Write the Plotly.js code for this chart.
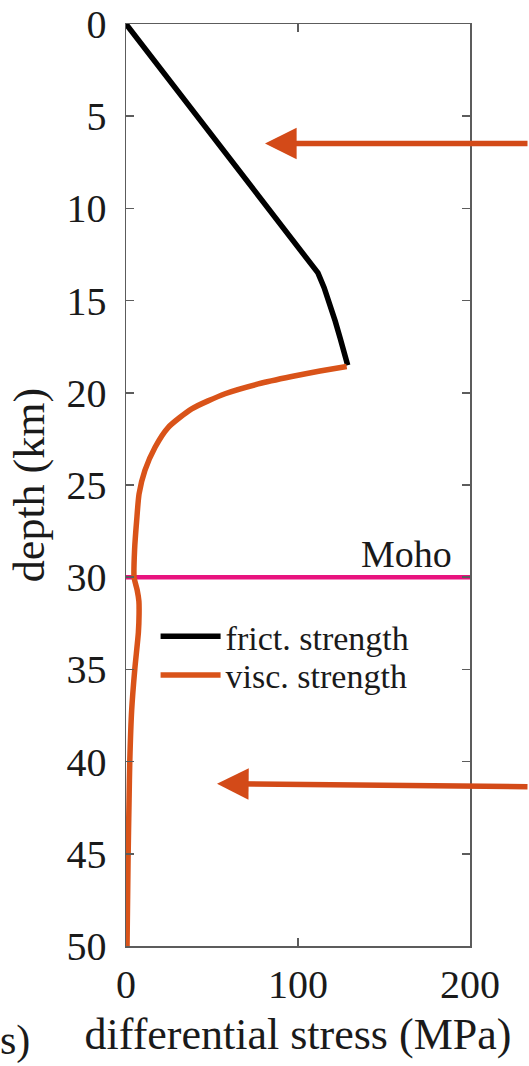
<!DOCTYPE html>
<html>
<head>
<meta charset="utf-8">
<script src="https://cdn.plot.ly/plotly-3.0.1.min.js"></script>
<style>
html,body{margin:0;padding:0;background:#fff;}
#plot{width:529px;height:1066px;}
</style>
</head>
<body>
<div id="plot"></div>
<script>
// ---- data ----
const frictDepth  = [0, 13.5, 14.3, 15.2, 16.1, 17.0, 17.8, 18.5];
const frictStress = [0, 111.6, 115.2, 118.6, 121.6, 124.4, 126.8, 128.9];

const viscDepth  = [18.57, 18.82, 19.12, 19.52, 20.05, 20.87, 21.87, 22.95, 24.21, 25.48, 26.93, 28.5, 30.0, 30.7, 31.3, 32.0, 33.0, 35.0, 37.2, 40.0, 42.0, 45.3, 50.0];
const viscStress = [128.3, 112.8, 96.3, 76.9, 57.6, 38.2, 24.6, 16.9, 11.0, 7.6, 6.2, 5.0, 4.7, 6.5, 7.5, 7.6, 7.2, 5.1, 3.3, 2.2, 1.8, 1.2, 0.6];

const mohoDepth = 30;
const mohoStress = [0, 200];

const xTicks = [0, 100, 200];
const yTicks = [0, 5, 10, 15, 20, 25, 30, 35, 40, 45, 50];

const arrowTips = [{x: 80.8, y: 6.48, dy: 0}, {x: 52.9, y: 41.2, dy: 3}];

const traceNames = ['frict. strength', 'visc. strength'];

// ---- styles ----
const FONT = 'Liberation Serif';
const orange = '#D95319';
const arrowColor = '#D34A18';
const magenta = '#E8137E';
const axisColor = '#5c5c5c';
const textColor = '#1a1a1a';

const traces = [
  {x: mohoStress, y: [mohoDepth, mohoDepth], mode: 'lines', line: {color: magenta, width: 4.5}, showlegend: false, hoverinfo: 'skip'},
  {x: frictStress, y: frictDepth, mode: 'lines', name: traceNames[0], line: {color: '#000000', width: 5.5}, legend: 'legend'},
  {x: viscStress, y: viscDepth, mode: 'lines', name: traceNames[1], line: {color: orange, width: 5.5, shape: 'spline', smoothing: 0.6}, legend: 'legend2'}
];

const annotations = [
  {x: 200, y: mohoDepth, xref: 'x', yref: 'y', text: 'Moho', showarrow: false, xanchor: 'right', yanchor: 'bottom', xshift: -16, yshift: 0, font: {family: FONT, size: 38, color: textColor}},
  {x: 0, y: 0, xref: 'paper', yref: 'paper', text: 's)', showarrow: false, xanchor: 'left', yanchor: 'bottom', xshift: -128, yshift: -120, font: {family: FONT, size: 42, color: textColor}}
];
arrowTips.forEach(a => {
  annotations.push({x: a.x, y: a.y, xref: 'x', yref: 'y', ax: 320, ay: a.dy, axref: 'pixel', ayref: 'pixel', text: '', showarrow: true, arrowhead: 2, arrowsize: 1.15, arrowwidth: 5.5, arrowcolor: arrowColor, standoff: 0});
});

const layout = {
  width: 529, height: 1066,
  margin: {l: 126, r: 59, t: 24, b: 120, pad: 0},
  paper_bgcolor: '#ffffff', plot_bgcolor: '#ffffff',
  font: {family: FONT, color: textColor},
  xaxis: {
    range: [0, 200], tickvals: xTicks, ticktext: xTicks.map(String),
    ticks: 'inside', ticklen: 8, tickwidth: 1.5, tickcolor: axisColor,
    showline: true, linecolor: axisColor, linewidth: 1.5, mirror: 'ticks',
    showgrid: false, zeroline: false,
    tickfont: {family: FONT, size: 40, color: textColor},
    ticklabelstandoff: 2,
    title: {text: 'differential stress (MPa)', font: {family: FONT, size: 44, color: textColor}, standoff: 12}
  },
  yaxis: {
    range: [50, 0], tickvals: yTicks, ticktext: yTicks.map(String),
    ticks: 'inside', ticklen: 8, tickwidth: 1.5, tickcolor: axisColor,
    showline: true, linecolor: axisColor, linewidth: 1.5, mirror: 'ticks',
    showgrid: false, zeroline: false,
    tickfont: {family: FONT, size: 40, color: textColor},
    ticklabelstandoff: 10,
    title: {text: 'depth (km)', font: {family: FONT, size: 44, color: textColor}, standoff: 8}
  },
  legend: {x: 0.086, y: 0.3355, xanchor: 'left', yanchor: 'middle', bgcolor: 'rgba(0,0,0,0)', borderwidth: 0, font: {family: FONT, size: 34, color: textColor}, itemwidth: 60},
  legend2: {x: 0.086, y: 0.2935, xanchor: 'left', yanchor: 'middle', bgcolor: 'rgba(0,0,0,0)', borderwidth: 0, font: {family: FONT, size: 34, color: textColor}, itemwidth: 60},
  annotations: annotations,
  showlegend: true
};

Plotly.newPlot('plot', traces, layout, {staticPlot: true, displayModeBar: false});
</script>
</body>
</html>
